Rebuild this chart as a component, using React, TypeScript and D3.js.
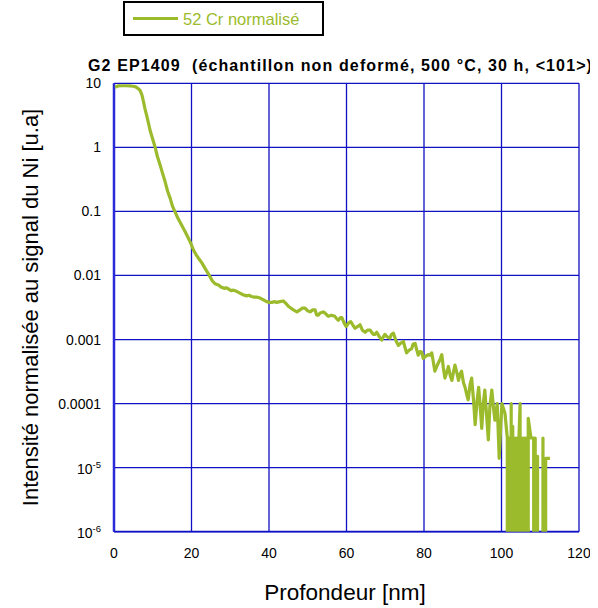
import React from "react";
import * as d3 from "d3";

const depth: number[] = [
  0.3, 1, 2, 3, 4, 5, 5.6, 6.2, 6.7, 7.2, 7.6, 8.0, 8.4, 8.9, 9.3, 9.9, 10.6, 11.2, 11.9, 12.5,
  13.2, 13.8, 14.5, 15.1, 15.7, 16.5, 17.4, 18.3, 19.2, 19.8, 20.5, 21.2, 21.8, 22.6, 23.5, 24.2, 24.8, 25.4, 26.1, 26.6,
  27.0, 27.6, 28.4, 28.9, 29.3, 29.8, 30.2, 30.8, 31.5, 32.0, 32.5, 33.3, 34.2, 34.8, 35.5, 36.2, 36.8, 37.5, 38.1, 38.8,
  39.4, 40.1, 40.7, 41.3, 42.0, 42.8, 43.7, 44.3, 45.0, 45.6, 46.3, 47.2, 48.0, 48.6, 49.3, 50.0, 50.6, 51.3, 51.9, 52.3,
  52.7, 53.2, 54.0, 54.4, 55.3, 56.1, 57.0, 57.5, 57.9, 58.4, 58.8, 59.4, 59.9, 60.5, 61.1, 61.6, 62.2, 62.9, 63.5, 64.1,
  64.8, 65.4, 66.1, 66.5, 66.9, 67.3, 67.8, 68.5, 69.1, 69.5, 69.9, 70.5, 71.2, 71.6, 72.1, 72.8, 73.4, 74.0, 74.7, 75.1,
  75.5, 76.1, 76.8, 77.2, 77.7, 78.1, 78.5, 79.0, 79.4, 79.8, 80.3, 81.1, 81.5, 82.0, 82.4, 82.8, 83.3, 83.7, 84.2, 84.6,
  85.0, 85.4, 85.9, 86.3, 86.8, 87.2, 87.6, 88.0, 88.5, 88.9, 89.3, 89.7, 90.2, 90.6, 91.0, 91.4, 91.9, 92.3, 92.8, 93.2,
  93.7, 94.1, 94.5, 94.9, 95.3, 95.7, 96.2, 96.6, 97.0, 97.5, 97.9, 98.3, 98.9, 99.4, 100.1, 100.9, 101.5, 101.7, 101.9, 102.1,
  102.5, 102.7, 102.9, 103.1, 103.3, 103.5, 103.7, 103.9, 104.1, 104.3, 104.5, 104.8, 105.0, 105.2, 105.4, 105.6, 105.8, 106.0, 106.2, 106.4,
  106.6, 106.9, 107.6, 108.3, 108.5, 108.7, 108.9, 109.3, 109.5, 110.7, 111.0, 111.4, 112.5,
];

const intensity: number[] = [
  8.7, 9.1, 9.15, 9.15, 9.1, 9.0, 8.8, 8.3, 7.8, 6.6, 5.2, 4.0, 3.2, 2.4, 1.85, 1.4, 1.01, 0.72, 0.53, 0.40,
  0.29, 0.21, 0.16, 0.12, 0.10, 0.078, 0.062, 0.049, 0.038, 0.032, 0.025, 0.021, 0.0186, 0.016, 0.0129, 0.011, 0.0095, 0.0082, 0.0074, 0.0072,
  0.0071, 0.0066, 0.0063, 0.0064, 0.0063, 0.006, 0.0058, 0.0059, 0.0057, 0.0055, 0.0053, 0.005, 0.0048, 0.0049, 0.0047, 0.0046, 0.0046, 0.0045, 0.0043, 0.0041,
  0.0039, 0.0038, 0.0038, 0.0039, 0.0038, 0.0039, 0.004, 0.0037, 0.0033, 0.0031, 0.0029, 0.0027, 0.0029, 0.0031, 0.0031, 0.0028, 0.0027, 0.0029, 0.0029, 0.0024,
  0.0024, 0.0026, 0.0027, 0.0026, 0.0023, 0.0024, 0.0023, 0.0021, 0.002, 0.0022, 0.0022, 0.0018, 0.0016, 0.0018, 0.0019, 0.0017, 0.0015, 0.0016, 0.0017, 0.0014,
  0.0013, 0.0014, 0.0014, 0.0013, 0.0012, 0.0012, 0.0013, 0.0011, 0.00098, 0.0011, 0.0012, 0.0011, 0.00105, 0.0012, 0.00126, 0.00095, 0.00081, 0.00088, 0.00093, 0.00075,
  0.00062, 0.00068, 0.00072, 0.00085, 0.00087, 0.0007, 0.00057, 0.00065, 0.00064, 0.00051, 0.00054, 0.00058, 0.00057, 0.00062, 0.00045, 0.00032, 0.00038, 0.00043, 0.0005, 0.00058,
  0.00036, 0.00025, 0.00031, 0.00038, 0.00027, 0.00023, 0.00031, 0.0004, 0.0003, 0.00023, 0.00029, 0.00032, 0.00021, 0.00018, 0.00014, 0.000115, 0.0002, 0.00025, 0.00011, 0.000047,
  0.00011, 0.00018, 0.00009, 0.000041, 0.0001, 0.000163, 0.00006, 0.000027, 0.00009, 0.000163, 0.00009, 0.000055, 0.0001, 0.000014, 0.0001, 0.00007, 0.000029, 0, 0.000029, 0,
  0.0001, 0, 0.000044, 0, 0.000029, 0, 0.000029, 0, 0.000029, 0, 0.000029, 0.0001, 0, 0.000029, 0, 0.000029, 0, 0.000029, 0, 0.000029,
  0, 0.000059, 0.000029, 0.000029, 0, 0.000029, 0, 0.000015, 0, 0.000029, 0, 0.000014, 0.000014,
];

const xTicks: number[] = [0, 20, 40, 60, 80, 100, 120];
const yTicks: number[] = [10, 1, 0.1, 0.01, 0.001, 0.0001, 1e-5, 1e-6];
const yTickLabels: string[] = ["10", "1", "0.1", "0.01", "0.001", "0.0001", "10^-5", "10^-6"];

const title = "G2 EP1409  (échantillon non deformé, 500 °C, 30 h, <101>)";
const legendLabel = "52 Cr normalisé";
const xLabel = "Profondeur [nm]";
const yLabel = "Intensité normalisée au signal du Ni [u.a]";

const GREEN = "#9bbb2c";
const BLUE = "#1010c4";
const FONT = "'Liberation Sans', Arial, sans-serif";

export default function App() {
  const left = 114, right = 579, top = 83.3, bottom = 531.7;
  const x = d3.scaleLinear().domain([0, 120]).range([left, right]);
  const y = d3.scaleLog().domain([1e-6, 10]).range([bottom, top]);
  const pts = depth.map((d, i) => [d, intensity[i]] as [number, number]);
  const line = d3
    .line<[number, number]>()
    .x((p) => x(p[0]))
    .y((p) => (p[1] > 0 ? y(p[1]) : bottom + 100000));
  const path = line(pts) || "";

  return (
    <svg
      width={598}
      height={608}
      style={{ position: "fixed", left: 0, top: 0, background: "#fff" }}
      fontFamily={FONT}
    >
      <defs>
        <clipPath id="plotclip">
          <rect x={left} y={top - 2} width={right - left} height={bottom - top + 2} />
        </clipPath>
        <clipPath id="pageclip">
          <rect x={0} y={0} width={590} height={608} />
        </clipPath>
      </defs>
      <rect x={0} y={0} width={598} height={608} fill="#fff" />

      <g clipPath="url(#pageclip)">
        {/* legend */}
        <rect x={124} y={2} width={199} height={33} fill="#fff" stroke="#000" strokeWidth={2} />
        <line x1={133} x2={178} y1={18.5} y2={18.5} stroke={GREEN} strokeWidth={3} />
        <text x={183} y={24.5} fontSize={16.5} fill={GREEN}>
          {legendLabel}
        </text>

        {/* title */}
        <text x={88} y={71} fontSize={16} fontWeight="bold" letterSpacing={1.12} fill="#000" style={{ whiteSpace: "pre" }}>
          {title}
        </text>

        {/* grid */}
        {xTicks.map((t) => (
          <line key={"gx" + t} x1={x(t)} x2={x(t)} y1={top} y2={bottom} stroke={BLUE} strokeWidth={1.3} />
        ))}
        {yTicks.map((t) => (
          <line key={"gy" + t} x1={left} x2={right} y1={y(t)} y2={y(t)} stroke={BLUE} strokeWidth={1.3} />
        ))}
        <line x1={left} x2={left} y1={top} y2={bottom} stroke="#2a2ad8" strokeWidth={2.5} />
        <line x1={left} x2={right} y1={bottom} y2={bottom} stroke={BLUE} strokeWidth={1.8} />

        {/* data */}
        <g clipPath="url(#plotclip)">
          <path d={path} fill="none" stroke={GREEN} strokeWidth={3.2} strokeLinejoin="round" />
        </g>

        {/* y tick labels */}
        {yTicks.map((t, i) => {
          const lab = yTickLabels[i];
          const yy = y(t) + 5;
          if (lab.includes("^")) {
            const [base, exp] = lab.split("^");
            return (
              <text key={"yl" + t} x={101} y={yy + 1} fontSize={14} textAnchor="end" fill="#000">
                {base}
                <tspan fontSize={9.5} dy={-6}>
                  {exp}
                </tspan>
              </text>
            );
          }
          return (
            <text key={"yl" + t} x={101} y={yy} fontSize={14} textAnchor="end" fill="#000">
              {lab}
            </text>
          );
        })}

        {/* x tick labels */}
        {xTicks.map((t) => (
          <text key={"xl" + t} x={x(t)} y={558} fontSize={14} textAnchor="middle" fill="#000">
            {t}
          </text>
        ))}

        {/* axis titles */}
        <text x={345} y={600} fontSize={22.5} textAnchor="middle" fill="#000">
          {xLabel}
        </text>
        <text
          transform={`translate(38, ${(top + bottom) / 2}) rotate(-90)`}
          fontSize={22}
          textAnchor="middle"
          fill="#000"
        >
          {yLabel}
        </text>
      </g>
    </svg>
  );
}
